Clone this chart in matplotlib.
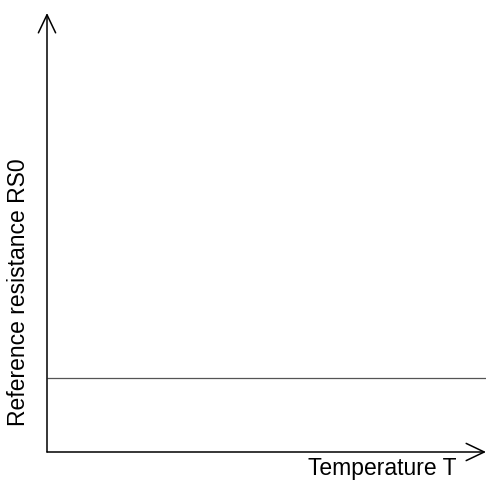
import matplotlib
matplotlib.use("Agg")
import matplotlib.pyplot as plt

# schematic: reference resistance stays constant over temperature
temperature = [0.0, 1.0]
rs0 = [0.169, 0.169]
x_label = "Temperature T"
y_label = "Reference resistance RS0"

plt.rcParams['font.family'] = ['Liberation Sans', 'DejaVu Sans']

W, H = 489, 482
fig = plt.figure(figsize=(W/100, H/100), dpi=100)
x0, x1 = 47, 486
y0, y1 = 452, 13
ax = fig.add_axes([x0/W, (H-y0)/H, (x1-x0)/W, (y0-y1)/H])
ax.set_xlim(0, 1)
ax.set_ylim(0, 1)
for s in ax.spines.values():
    s.set_visible(False)
ax.set_xticks([]); ax.set_yticks([])
ax.patch.set_alpha(0)

ax.plot(temperature, rs0, color="#555555", lw=0.9, solid_capstyle='butt')

arr = dict(arrowstyle="->,head_length=1.3,head_width=0.62", lw=1.1, color="black",
           shrinkA=0, shrinkB=0, mutation_scale=10)
ax.annotate("", xy=(0, 1), xytext=(0, 0), xycoords='axes fraction', arrowprops=arr)
ax.annotate("", xy=(1, 0), xytext=(0, 0), xycoords='axes fraction', arrowprops=arr)

fig.text(457/W, 1-469/H, x_label, ha='right', va='center', fontsize=16.5)
fig.text(18.5/W, 1-292.5/H, y_label, ha='center', va='center', rotation=90, fontsize=16.5)

fig.savefig("out.png", dpi=100, facecolor="white")
